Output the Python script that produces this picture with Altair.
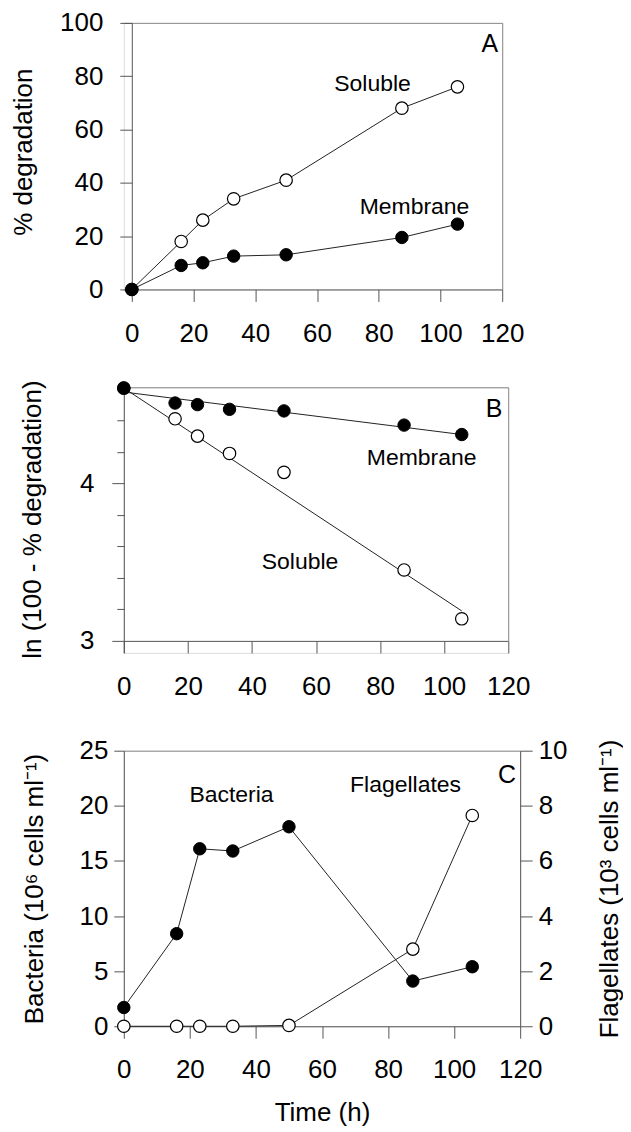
import altair as alt
import pandas as pd

# ---------------- data ----------------
time_h = [0, 16, 23, 33, 50, 87.5, 105.5]

# Panel A: % degradation
a_soluble = [0, 18, 26, 34, 41, 68, 76]
a_membrane = [0, 9, 10, 12.5, 13, 19.5, 24.5]

# Panel B: ln(100 - % degradation) and the fitted lines
b_soluble = [4.605, 4.41, 4.30, 4.19, 4.07, 3.45, 3.14]
b_membrane = [4.605, 4.51, 4.50, 4.47, 4.46, 4.37, 4.31]
b_fit_time = [0, 105.5]
b_fit_soluble = [4.605, 3.19]
b_fit_membrane = [4.58, 4.31]

# Panel C: bacteria (10^6 cells/ml) and flagellates (10^3 cells/ml)
c_bacteria = [1.7, 8.4, 16.1, 15.9, 18.1, 4.1, 5.4]
c_flagellates = [0, 0, 0, 0, 0.03, 2.8, 7.65]

# tick values
x_ticks = [0, 20, 40, 60, 80, 100, 120]
a_y_ticks = [0, 20, 40, 60, 80, 100]
b_y_ticks = [3.0, 3.2, 3.4, 3.6, 3.8, 4.0, 4.2, 4.4]
c_left_ticks = [0, 5, 10, 15, 20, 25]
c_right_ticks = [0, 2, 4, 6, 8, 10]

# annotations (data coordinates)
a_notes = ["Soluble", "Membrane"]
a_note_t = [78, 91.6]
a_note_v = [77, 31]
b_notes = ["Membrane", "Soluble"]
b_note_t = [93, 55]
b_note_v = [4.16, 3.50]
c_notes = ["Bacteria", "Flagellates"]
c_note_t = [32.6, 85.3]
c_note_v = [21.0, 21.9]
panel_letters = ["A", "B", "C"]
letter_t = [116, 115.6, 116]
letter_v = [92, 4.47, 22.8]

# ---------------- styling ----------------
FONT = "Liberation Sans"
AX = "#555555"
FR = "#8c8c8c"
LINE = "#222222"
PT_SIZE = 155

def axis(**kw):
    base = dict(grid=False, domainColor=AX, tickColor=AX, labelColor="black",
                labelFont=FONT, labelFontSize=26, titleFont=FONT, titleFontSize=26,
                titleFontWeight="normal", titleColor="black", labelOverlap=False)
    base.update(kw)
    return alt.Axis(**base)

def frame_axis(orient):
    return alt.Axis(orient=orient, labels=False, ticks=False, title=None, grid=False,
                    domainColor=FR)

def text_layer(df, scx, scy, size):
    return alt.Chart(df).mark_text(font=FONT, fontSize=size, color="black").encode(
        x=alt.X("t:Q", scale=scx, axis=None),
        y=alt.Y("v:Q", scale=scy, axis=None),
        text="text:N",
    )

# ---------------- Panel A ----------------
dfA = pd.DataFrame({"t": time_h * 2, "v": a_soluble + a_membrane,
                    "series": ["Soluble"] * 7 + ["Membrane"] * 7})
sxA = alt.Scale(domain=[-2.59, 120], nice=False, zero=False)
syA = alt.Scale(domain=[0, 100], nice=False, zero=False)

lineA = alt.Chart(dfA).mark_line(color=LINE, strokeWidth=1).encode(
    x=alt.X("t:Q", scale=sxA, axis=axis(values=x_ticks, title=None, tickSize=12,
                                        labelPadding=19, labelFlush=False)),
    y=alt.Y("v:Q", scale=syA, axis=axis(values=a_y_ticks, offset=-8, tickSize=12,
                                        labelPadding=17, title="% degradation",
                                        titleX=-108, titleY=129, titleAlign="center",
                                        titleBaseline="middle")),
    detail="series:N",
)
openA = alt.Chart(dfA).transform_filter("datum.series == 'Soluble'").mark_point(
    shape="circle", filled=True, fill="white", stroke="black", strokeWidth=1.2,
    size=PT_SIZE, opacity=1).encode(
    x=alt.X("t:Q", scale=sxA, axis=None), y=alt.Y("v:Q", scale=syA, axis=None))
fillA = alt.Chart(dfA).transform_filter("datum.series == 'Membrane'").mark_point(
    shape="circle", filled=True, fill="black", stroke="black", strokeWidth=1,
    size=PT_SIZE, opacity=1).encode(
    x=alt.X("t:Q", scale=sxA, axis=None), y=alt.Y("v:Q", scale=syA, axis=None))
notesA = text_layer(pd.DataFrame({"text": a_notes, "t": a_note_t, "v": a_note_v}), sxA, syA, 23)
letterA = text_layer(pd.DataFrame({"text": [panel_letters[0]], "t": [letter_t[0]], "v": [letter_v[0]]}), sxA, syA, 25)
frameA = alt.Chart(dfA).mark_point(opacity=0).encode(
    x=alt.X("t:Q", scale=sxA, axis=frame_axis("top")),
    y=alt.Y("v:Q", scale=syA, axis=frame_axis("right")))

panelA = alt.layer(lineA, openA, fillA, notesA, letterA, frameA).resolve_axis(
    x="independent", y="independent").properties(width=379, height=267)

# ---------------- Panel B ----------------
dfB = pd.DataFrame({"t": time_h * 2, "v": b_soluble + b_membrane,
                    "series": ["Soluble"] * 7 + ["Membrane"] * 7})
dfBfit = pd.DataFrame({"t": b_fit_time * 2, "v": b_fit_soluble + b_fit_membrane,
                       "series": ["Soluble"] * 2 + ["Membrane"] * 2})
sxB = alt.Scale(domain=[0, 120], nice=False, zero=False)
syB = alt.Scale(domain=[2.9238, 4.61], nice=False, zero=False)

lineB = alt.Chart(dfBfit).mark_line(color=LINE, strokeWidth=1).encode(
    x=alt.X("t:Q", scale=sxB, axis=axis(values=x_ticks, title=None, tickSize=12,
                                        labelPadding=21, labelFlush=False, offset=-12)),
    y=alt.Y("v:Q", scale=syB, axis=axis(
        values=b_y_ticks, tickSize={"condition": {"test": "datum.value == 3 || datum.value == 4", "value": 12}, "value": 7},
        labelPadding=18,
        labelExpr="(datum.value == 3 || datum.value == 4) ? '' + datum.value : ''",
        title="ln (100 - % degradation)", titleX=-91.5, titleY=132,
        titleAlign="center", titleBaseline="middle")),
    detail="series:N",
)
openB = alt.Chart(dfB).transform_filter("datum.series == 'Soluble'").mark_point(
    shape="circle", filled=True, fill="white", stroke="black", strokeWidth=1.2,
    size=PT_SIZE, opacity=1).encode(
    x=alt.X("t:Q", scale=sxB, axis=None), y=alt.Y("v:Q", scale=syB, axis=None))
fillB = alt.Chart(dfB).transform_filter("datum.series == 'Membrane'").mark_point(
    shape="circle", filled=True, fill="black", stroke="black", strokeWidth=1,
    size=PT_SIZE, opacity=1).encode(
    x=alt.X("t:Q", scale=sxB, axis=None), y=alt.Y("v:Q", scale=syB, axis=None))
notesB = text_layer(pd.DataFrame({"text": b_notes, "t": b_note_t, "v": b_note_v}), sxB, syB, 23)
letterB = text_layer(pd.DataFrame({"text": [panel_letters[1]], "t": [letter_t[1]], "v": [letter_v[1]]}), sxB, syB, 25)
frameB = alt.Chart(dfB).mark_point(opacity=0).encode(
    x=alt.X("t:Q", scale=sxB, axis=frame_axis("top")),
    y=alt.Y("v:Q", scale=syB, axis=frame_axis("right")))

panelB = alt.layer(lineB, openB, fillB, notesB, letterB, frameB).resolve_axis(
    x="independent", y="independent").properties(width=385, height=266)

# ---------------- Panel C ----------------
dfC = pd.DataFrame({"t": time_h, "bac": c_bacteria, "flag": c_flagellates})
sxC = alt.Scale(domain=[0, 120], nice=False, zero=False)
syCb = alt.Scale(domain=[0, 25], nice=False, zero=False)
syCf = alt.Scale(domain=[0, 10], nice=False, zero=False)

bacLine = alt.Chart(dfC).mark_line(color=LINE, strokeWidth=1).encode(
    x=alt.X("t:Q", scale=sxC, axis=axis(values=x_ticks, title="Time (h)", tickSize=12,
                                        labelPadding=18, labelFlush=False,
                                        titleX=198.5, titleY=86, titleAlign="center",
                                        titleBaseline="middle")),
    y=alt.Y("bac:Q", scale=syCb, axis=axis(values=c_left_ticks, tickSize=10, labelPadding=6,
                                           title="Bacteria (10\u2076 cells ml\u207b\u00b9)",
                                           titleX=-89.5, titleY=138, titleAlign="center",
                                           titleBaseline="middle")),
)
bacPts = alt.Chart(dfC).mark_point(shape="circle", filled=True, fill="black", stroke="black",
                                   strokeWidth=1, size=PT_SIZE, opacity=1).encode(
    x=alt.X("t:Q", scale=sxC, axis=None), y=alt.Y("bac:Q", scale=syCb, axis=None))
flagLine = alt.Chart(dfC).mark_line(color=LINE, strokeWidth=1).encode(
    x=alt.X("t:Q", scale=sxC, axis=None),
    y=alt.Y("flag:Q", scale=syCf, axis=axis(orient="right", values=c_right_ticks, tickSize=12,
                                            labelPadding=6,
                                            title="Flagellates (10\u00b3 cells ml\u207b\u00b9)",
                                            titleAngle=270, titleX=89, titleY=138,
                                            titleAlign="center", titleBaseline="middle")),
)
flagPts = alt.Chart(dfC).mark_point(shape="circle", filled=True, fill="white", stroke="black",
                                    strokeWidth=1.2, size=PT_SIZE, opacity=1).encode(
    x=alt.X("t:Q", scale=sxC, axis=None), y=alt.Y("flag:Q", scale=syCf, axis=None))
notesC = text_layer(pd.DataFrame({"text": c_notes, "t": c_note_t, "v": c_note_v}), sxC, syCb, 23)
letterC = text_layer(pd.DataFrame({"text": [panel_letters[2]], "t": [letter_t[2]], "v": [letter_v[2]]}), sxC, syCb, 25)
frameC = alt.Chart(dfC).mark_point(opacity=0).encode(
    x=alt.X("t:Q", scale=sxC, axis=frame_axis("top")),
    y=alt.Y("bac:Q", scale=syCb, axis=None))

panelC = alt.layer(bacLine, flagLine, flagPts, bacPts, notesC, letterC, frameC).resolve_scale(
    y="independent").resolve_axis(x="independent", y="independent").properties(width=397, height=276)

chart = alt.vconcat(panelA, panelB, panelC, spacing=98, bounds="flush").properties(
    padding={"left": 2, "top": 0, "right": 0, "bottom": 0}
).configure_view(stroke=None).configure(background="white")

chart.save("out.html", embed_options={"renderer": "svg", "actions": False})
